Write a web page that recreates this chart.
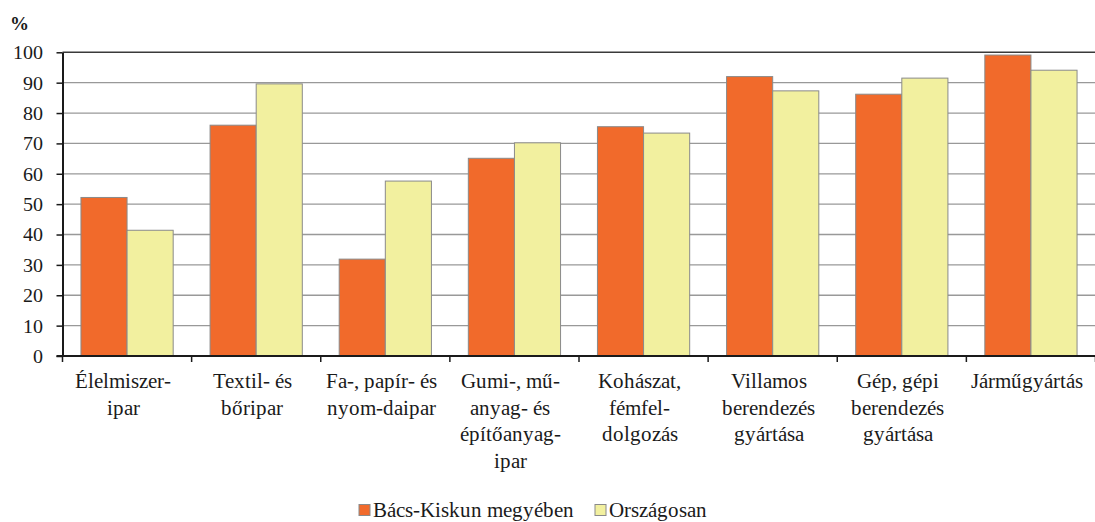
<!DOCTYPE html>
<html>
<head>
<meta charset="utf-8">
<script src="https://cdn.jsdelivr.net/npm/d3@7"></script>
<style>
  @font-face {
    font-family: "ChartSerif";
    src: local("Liberation Serif"), local("LiberationSerif"), local("LiberationSerif-Regular");
    font-weight: normal;
  }
  @font-face {
    font-family: "ChartSerif";
    src: local("Liberation Serif Bold"), local("LiberationSerif-Bold");
    font-weight: bold;
  }
  body { margin: 0; background: #fff; }
</style>
</head>
<body>
<div id="chart"></div>
<script>
const width = 1095;
const height = 522;
const font = "ChartSerif, Liberation Serif, serif";

const categories = [
  ["Élelmiszer-", "ipar"],
  ["Textil- és", "bőripar"],
  ["Fa-, papír- és", "nyom-daipar"],
  ["Gumi-, mű-", "anyag- és", "építőanyag-", "ipar"],
  ["Kohászat,", "fémfel-", "dolgozás"],
  ["Villamos", "berendezés", "gyártása"],
  ["Gép, gépi", "berendezés", "gyártása"],
  ["Járműgyártás"],
];
const seriesNames = ["Bács-Kiskun megyében", "Országosan"];
const bacsKiskun = [52.2, 76.0, 31.9, 65.1, 75.5, 92.0, 86.2, 99.1];
const orszagosan = [41.4, 89.6, 57.6, 70.2, 73.4, 87.3, 91.5, 94.1];
const yTicks = [0, 10, 20, 30, 40, 50, 60, 70, 80, 90, 100];

const colors = ["#f16a2b", "#f2f09f"];

const margin = { top: 52.3, right: 0, bottom: 166, left: 62.5 };

const svg = d3
  .select("#chart")
  .append("svg")
  .attr("width", width)
  .attr("height", height)
  .style("font-family", font);

const keys = categories.map((c, i) => i);

const x0 = d3
  .scaleBand()
  .domain(keys)
  .range([margin.left, width + 0.5])
  .padding(0);

const x1 = d3
  .scaleBand()
  .domain([0, 1])
  .range([0, x0.bandwidth()])
  .paddingInner(0)
  .paddingOuter(0.4);

const y = d3
  .scaleLinear()
  .domain([0, 100])
  .range([height - margin.bottom, margin.top]);

// gridlines
svg
  .append("g")
  .selectAll("line")
  .data(yTicks.filter((t) => t > 0))
  .enter()
  .append("line")
  .attr("x1", margin.left)
  .attr("x2", width)
  .attr("y1", (d) => y(d))
  .attr("y2", (d) => y(d))
  .attr("stroke", (d) => (d === 100 ? "#3a3a3a" : "#999"))
  .attr("stroke-width", (d) => (d === 100 ? 1.6 : 1.3));

// bars
const data = keys.map((i) => [bacsKiskun[i], orszagosan[i]]);

svg
  .append("g")
  .selectAll("g")
  .data(data)
  .enter()
  .append("g")
  .attr("transform", (d, i) => `translate(${x0(i)},0)`)
  .selectAll("rect")
  .data((d) => d)
  .enter()
  .append("rect")
  .attr("x", (d, j) => x1(j))
  .attr("width", x1.bandwidth())
  .attr("y", (d) => y(d))
  .attr("height", (d) => y(0) - y(d))
  .attr("fill", (d, j) => colors[j])
  .attr("stroke", "#8a8a8a")
  .attr("stroke-width", 1);

// y axis
const yAxis = d3
  .axisLeft(y)
  .tickValues(yTicks)
  .tickSize(6)
  .tickSizeOuter(0)
  .tickPadding(14);

const yG = svg
  .append("g")
  .attr("transform", `translate(${margin.left},0)`)
  .call(yAxis)
  .attr("font-family", null);

yG.select(".domain").attr("stroke", "#1a1a1a").attr("stroke-width", 2);
yG.selectAll(".tick line").attr("stroke", "#1a1a1a").attr("stroke-width", 1.5);
yG.selectAll(".tick text")
  .style("font-family", font)
  .attr("font-size", 20)
  .attr("fill", "#1a1a1a");

// x axis: ticks at category boundaries
const boundaries = keys.map((k) => x0(k)).concat([x0.range()[1]]);
const xG = svg.append("g");

xG.append("line")
  .attr("x1", margin.left - 6)
  .attr("x2", width)
  .attr("y1", y(0))
  .attr("y2", y(0))
  .attr("stroke", "#1a1a1a")
  .attr("stroke-width", 2.2);

xG.selectAll(".xtick")
  .data(boundaries)
  .enter()
  .append("line")
  .attr("class", "xtick")
  .attr("x1", (d) => d)
  .attr("x2", (d) => d)
  .attr("y1", y(0))
  .attr("y2", y(0) + 6)
  .attr("stroke", "#1a1a1a")
  .attr("stroke-width", 1.5);

// category labels, one text per line
const lines = [];
categories.forEach((c, i) => c.forEach((t, j) => lines.push({ i, j, t })));

xG.selectAll(".xlabel")
  .data(lines)
  .enter()
  .append("text")
  .attr("class", "xlabel")
  .attr("text-anchor", "middle")
  .style("font-family", font)
  .attr("font-size", 20.5)
  .attr("fill", "#1a1a1a")
  .attr("x", (d) => x0(d.i) + x0.bandwidth() / 2 - 4)
  .attr("y", (d) => y(0) + 32 + d.j * 26.5)
  .text((d) => d.t);

// unit label
svg
  .append("text")
  .attr("x", 10)
  .attr("y", 30)
  .style("font-family", font)
  .attr("font-size", 19)
  .attr("font-weight", "bold")
  .attr("fill", "#1a1a1a")
  .text("%");

// legend
const legendX = [359, 595];

svg
  .selectAll(".legend-box")
  .data(seriesNames)
  .enter()
  .append("rect")
  .attr("class", "legend-box")
  .attr("x", (d, i) => legendX[i])
  .attr("y", 504.5)
  .attr("width", 11)
  .attr("height", 11)
  .attr("fill", (d, i) => colors[i])
  .attr("stroke", "#8a8a8a")
  .attr("stroke-width", 1);

svg
  .selectAll(".legend-text")
  .data(seriesNames)
  .enter()
  .append("text")
  .attr("class", "legend-text")
  .attr("x", (d, i) => legendX[i] + 14)
  .attr("y", 517)
  .style("font-family", font)
  .attr("font-size", 20.5)
  .attr("fill", "#1a1a1a")
  .text((d) => d);
</script>
</body>
</html>
